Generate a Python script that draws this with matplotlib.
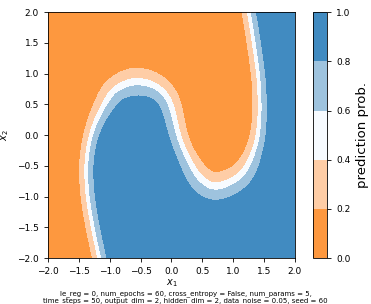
import numpy as np
import matplotlib
matplotlib.use("Agg")
import matplotlib.pyplot as plt
from matplotlib.colors import ListedColormap, BoundaryNorm
from matplotlib.path import Path

# decision boundary (p = 0.5), top right -> bottom left
boundary_x = [1.26, 1.31, 1.39, 1.43, 1.44, 1.41, 1.35, 1.24, 1.06, 0.70,
              0.47, 0.33, 0.19, 0.094, -0.02, -0.2, -0.4, -0.62, -0.85,
              -1.0, -1.27, -1.38, -1.36, -1.27, -1.16]
boundary_y = [2.0, 1.71, 1.17, 0.81, 0.35, 0.0, -0.24, -0.52, -0.73, -0.87,
              -0.73, -0.52, -0.24, 0.03, 0.55, 0.76, 0.85, 0.87, 0.78,
              0.65, 0.135, -0.41, -0.95, -1.49, -2.0]
# relative width of the transition bands along the boundary
band_scale = [0.5, 0.5, 0.5, 0.5, 0.5, 0.55, 0.6, 0.75, 0.9, 1.0,
              0.9, 0.75, 0.65, 0.65, 0.75, 0.85, 0.95, 1.0, 0.9,
              0.8, 0.55, 0.5, 0.5, 0.5, 0.5]

# signed distance (at scale 1) -> probability, band edges
dist_knots = [-0.42, -0.23, -0.06, 0.06, 0.23, 0.42]
prob_knots = [0.0, 0.2, 0.4, 0.6, 0.8, 1.0]

levels = [0.0, 0.2, 0.4, 0.6, 0.8, 1.0]
band_colors = ["#fd983f", "#fecda6", "#f7fbff", "#9ec3de", "#418bc1"]

note = ("le_reg = 0, num_epochs = 60, cross_entropy = False, num_params = 5,\n"
        "time_steps = 50, output_dim = 2, hidden_dim = 2, data_noise = 0.05, seed = 60")


def chaikin(pts, n_iter=3):
    for _ in range(n_iter):
        q = 0.75 * pts[:-1] + 0.25 * pts[1:]
        r = 0.25 * pts[:-1] + 0.75 * pts[1:]
        new = np.empty((2 * len(q), pts.shape[1]))
        new[0::2] = q
        new[1::2] = r
        pts = np.vstack([pts[:1], new, pts[-1:]])
    return pts


curve = np.column_stack([boundary_x, boundary_y, band_scale])
# extend past the frame so the field is fine at the edges
top = curve[0].copy()
top[:2] += (curve[0, :2] - curve[1, :2]) * 0.6
bot = curve[-1].copy()
bot[:2] += (curve[-1, :2] - curve[-2, :2]) * 0.6
curve = np.vstack([top, curve, bot])
curve = chaikin(curve, 4)

xs = np.linspace(-2, 2, 400)
ys = np.linspace(-2, 2, 400)
X, Y = np.meshgrid(xs, ys)
P = np.column_stack([X.ravel(), Y.ravel()])

# min distance to polyline, and band scale of the nearest point
a = curve[:-1]
b = curve[1:]
d = np.full(len(P), np.inf)
w = np.ones(len(P))
for i in range(len(a)):
    ab = b[i, :2] - a[i, :2]
    t = np.clip(((P - a[i, :2]) @ ab) / (ab @ ab), 0, 1)
    proj = a[i, :2] + t[:, None] * ab
    di = np.hypot(*(P - proj).T)
    closer = di < d
    d = np.where(closer, di, d)
    w = np.where(closer, a[i, 2] + t * (b[i, 2] - a[i, 2]), w)

poly = np.vstack([curve[:, :2], [[3.0, -3.0], [3.0, 3.0]]])
inside = Path(poly).contains_points(P)
sd = (np.where(inside, d, -d) / w).reshape(X.shape)
prob = np.interp(sd, dist_knots, prob_knots)

fig = plt.figure(figsize=(3.71, 3.04), dpi=100)
ax = fig.add_axes([0.129, 0.151, 0.666, 0.809])
cax = fig.add_axes([0.844, 0.151, 0.038, 0.809])

cmap = ListedColormap(band_colors)
norm = BoundaryNorm(levels, cmap.N)
cs = ax.contourf(X, Y, prob, levels=levels, cmap=cmap, norm=norm)

ax.set_xlim(-2, 2)
ax.set_ylim(-2, 2)
ticks = [-2.0, -1.5, -1.0, -0.5, 0.0, 0.5, 1.0, 1.5, 2.0]
ax.set_xticks(ticks)
ax.set_yticks(ticks)
ax.tick_params(labelsize=6.5, length=3, width=0.6)
ax.set_xlabel("$x_1$", fontsize=7, labelpad=1)
ax.set_ylabel("$x_2$", fontsize=7, labelpad=4)
for s in ax.spines.values():
    s.set_linewidth(0.6)

cb = fig.colorbar(cs, cax=cax, ticks=levels)
cb.ax.tick_params(labelsize=6.5, length=3, width=0.6)
cb.outline.set_linewidth(0.6)
cb.set_label("prediction prob.", fontsize=9.5)

fig.text(0.5, 0.0, note, ha="center", va="bottom", fontsize=5, linespacing=1.0)

fig.savefig("out.png", dpi=100)
